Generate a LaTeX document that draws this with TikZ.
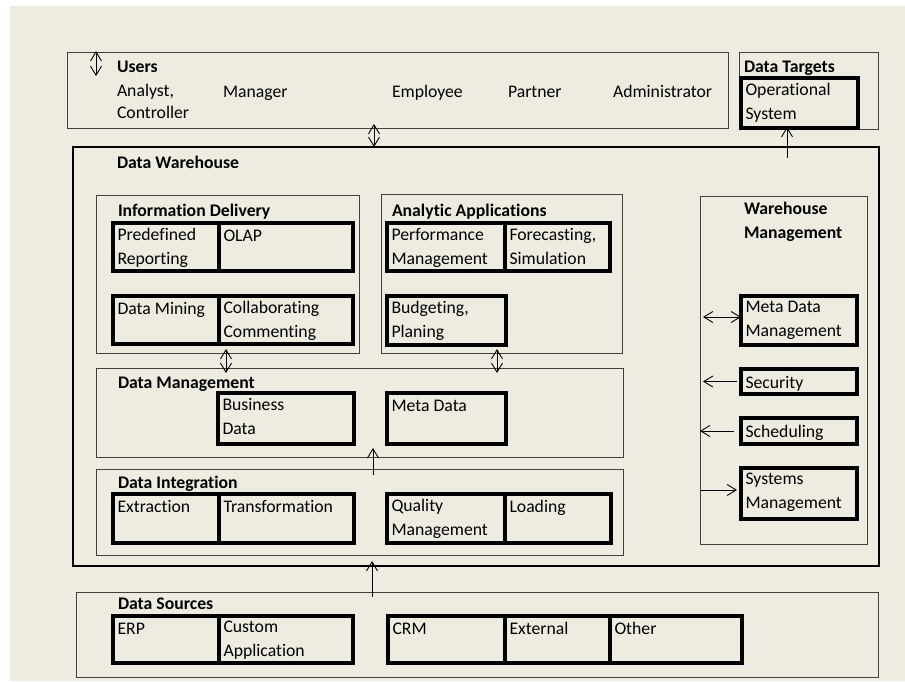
\documentclass[tikz,border=0pt]{standalone}
\usepackage{fontspec}
\setmainfont{Carlito}[Ligatures={NoCommon}]
\usetikzlibrary{arrows.meta}
\definecolor{paper}{RGB}{238,236,225}
\newcommand\txt{\fontsize{17.7}{24.5}\selectfont}
% thick-bordered cell with its text in the upper left corner
% #1 name, #2 x, #3 y, #4 width, #5 height, #6 text
\newcommand\dwcell[6]{%
  \node[cellbox, minimum width=#4pt, minimum height=#5pt] (#1) at (#2,#3) {};
  \node[lbl] (#1-t) at (#2+4.5,#3+5) {#6};
}
\begin{document}
\begin{tikzpicture}[x=1pt, y=-1pt,
  frame/.style={draw=black!75, line width=1pt, inner sep=0pt, outer sep=0pt, anchor=north west},
  cellbox/.style={draw=black, line width=3.6pt, inner sep=0pt, outer sep=0pt, anchor=north west},
  lbl/.style={inner sep=0pt, outer sep=0pt, anchor=north west, align=left, font=\txt,
              execute at begin node={\rule{0pt}{13pt}}},
  ttl/.style={lbl, font=\txt\bfseries},
  tip/.tip={Straight Barb[length=9pt,width=11pt]},
  dbl/.style={draw=black, line width=0.9pt, tip-tip},
  one/.style={draw=black, line width=0.9pt, -tip}]

\useasboundingbox (0,0) rectangle (905,681);
\fill[white] (0,0) rectangle (905,681);
\fill[paper] (10,6) rectangle (905,681);

% ---- outer frames ----
\node[frame, minimum width=661pt, minimum height=76pt] (users) at (67,52) {};
\node[frame, minimum width=139pt, minimum height=77pt] (targets) at (739,52) {};
\node[frame, draw=black, line width=1.3pt, minimum width=806pt, minimum height=419pt] (dw) at (73,147) {};
\node[frame, minimum width=263pt, minimum height=158pt] (infodel) at (96,195) {};
\node[frame, minimum width=241pt, minimum height=159pt] (analytic) at (381,194) {};
\node[frame, minimum width=167pt, minimum height=348pt] (wm) at (700,196) {};
\node[frame, minimum width=527pt, minimum height=89pt] (dm) at (96,368) {};
\node[frame, minimum width=527pt, minimum height=86pt] (di) at (96,469) {};
\node[frame, minimum width=802pt, minimum height=85pt] (sources) at (76,592) {};

% ---- titles ----
\node[ttl] (users-h) at (117,59) {Users};
\node[ttl] (targets-h) at (744,59) {Data Targets};
\node[ttl] (dw-h) at (117,155.5) {Data Warehouse};
\node[ttl] (infodel-h) at (118,203) {Information Delivery};
\node[ttl] (analytic-h) at (392,203) {Analytic Applications};
\node[ttl] (wm-h) at (744,202) {Warehouse\\Management};
\node[ttl] (dm-h) at (118,375) {Data Management};
\node[ttl] (di-h) at (118,475) {Data Integration};
\node[ttl] (sources-h) at (118,596) {Data Sources};

% ---- users ----
\node[lbl, font=\fontsize{17.7}{22.5}\selectfont] (u1) at (117,84) {Analyst,\\Controller};
\node[lbl] (u2) at (223,84) {Manager};
\node[lbl] (u3) at (392,84) {Employee};
\node[lbl] (u4) at (508,84) {Partner};
\node[lbl] (u5) at (613,84) {Administrator};

% ---- cells ----
\dwcell{opsys}{741}{78}{117}{50}{Operational\\System}
\dwcell{predef}{113}{223}{106}{48}{Predefined\\Reporting}
\dwcell{olap}{219}{223}{134}{48}{OLAP}
\dwcell{mining}{113}{296}{106}{48}{Data Mining}
\dwcell{collab}{219}{296}{134}{48}{Collaborating\\Commenting}
\dwcell{perf}{387}{223}{118}{48}{Performance\\Management}
\dwcell{forecast}{505}{223}{105}{48}{Forecasting,\\Simulation}
\dwcell{budget}{387}{296}{119}{49}{Budgeting,\\Planing}
\dwcell{bizdata}{218}{393}{136}{51}{Business\\Data}
\dwcell{metadata}{387}{393}{119}{51}{Meta Data}
\dwcell{extract}{113}{494}{106}{49}{Extraction}
\dwcell{transform}{219}{494}{135}{49}{Transformation}
\dwcell{quality}{387}{494}{118}{49}{Quality\\Management}
\dwcell{loading}{505}{494}{106}{49}{Loading}
\dwcell{erp}{113}{616}{106}{47}{ERP}
\dwcell{custom}{219}{616}{134}{47}{Custom\\Application}
\dwcell{crm}{388}{616}{117}{47}{CRM}
\dwcell{external}{505}{616}{105}{47}{External}
\dwcell{other}{610}{616}{132}{47}{Other}
\dwcell{mdm}{741}{296}{116}{49}{Meta Data\\Management}
\node[cellbox, minimum width=116pt, minimum height=25pt] (security) at (741,369) {};
\node[lbl] (security-t) at (745.5,375) {Security};
\node[cellbox, minimum width=116pt, minimum height=26pt] (sched) at (741,418) {};
\node[lbl] (sched-t) at (745.5,424) {Scheduling};
\dwcell{sysmgmt}{741}{468}{116}{51}{Systems\\Management}

% ---- connectors ----
\coordinate (ua1) at (96,51);
\coordinate (ua2) at (96,76);
\draw[dbl] (ua1) -- (ua2);

\coordinate (xu) at (374,0);
\draw[dbl, shorten >=-4pt] (dw.north -| xu) -- (users.south -| xu);

\coordinate (xt) at (787,158);
\draw[one, shorten >=-2pt] (xt) -- (targets.south -| xt);

\coordinate (xi) at (226,0);
\draw[dbl, shorten <=-4pt, shorten >=-5pt] (infodel.south -| xi) -- (dm.north -| xi);
\coordinate (xa) at (497,0);
\draw[dbl, shorten <=-4pt, shorten >=-5pt] (analytic.south -| xa) -- (dm.north -| xa);

\coordinate (xd) at (373,0);
\draw[one, shorten <=-6pt, shorten >=-9pt] (di.north -| xd) -- (dm.south -| xd);
\coordinate (xs) at (372,0);
\draw[one, shorten <=-5pt, shorten >=-5pt] (sources.north -| xs) -- (dw.south -| xs);

\draw[dbl, shorten <=3pt] ([yshift=3.5pt]mdm.west -| wm.west) -- ([yshift=3.5pt]mdm.west);
\draw[one, shorten <=4pt, shorten >=3pt] (security.west) -- (security.west -| wm.west);
\draw[one, shorten <=7pt] (sched.west) -- (sched.west -| wm.west);
\draw[one, shorten <=1pt, shorten >=4pt] ([yshift=3.5pt]sysmgmt.west -| wm.west) -- ([yshift=3.5pt]sysmgmt.west);
\end{tikzpicture}
\end{document}
